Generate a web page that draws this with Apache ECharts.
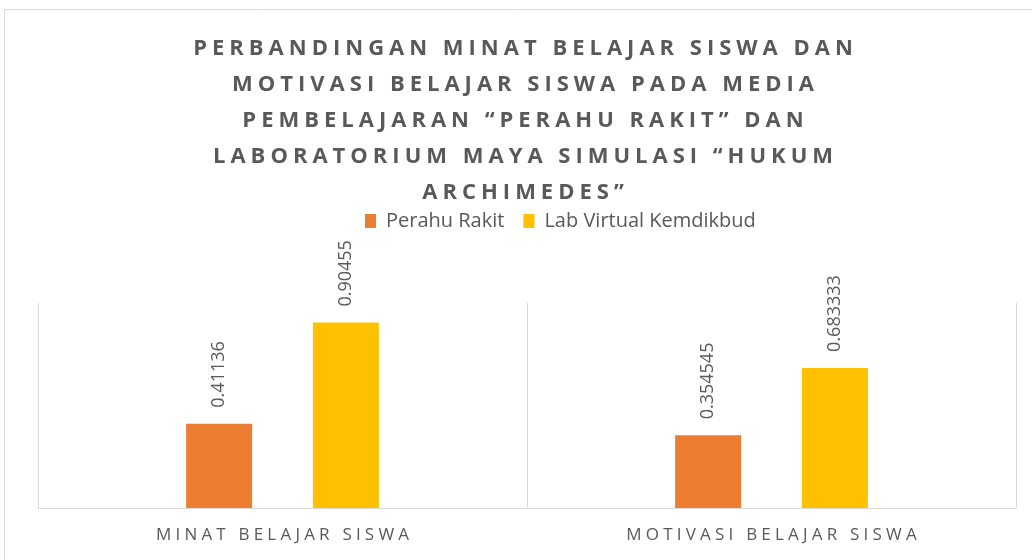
<!DOCTYPE html>
<html>
<head>
<meta charset="utf-8">
<script src="https://cdn.jsdelivr.net/npm/echarts@6/dist/echarts.min.js"></script>
<style>
  html, body { margin: 0; padding: 0; background: #fff; }
  #chart { width: 1032px; height: 560px; }
</style>
</head>
<body>
<div id="chart"></div>
<script>
// data
var categories = ["MINAT BELAJAR SISWA", "MOTIVASI BELAJAR SISWA"];
var seriesNames = ["Perahu Rakit", "Lab Virtual Kemdikbud"];
var perahuRakit = [0.41136, 0.354545];
var labVirtual = [0.90455, 0.683333];
var titleLines = [
  "PERBANDINGAN MINAT BELAJAR SISWA DAN",
  "MOTIVASI BELAJAR SISWA PADA MEDIA",
  "PEMBELAJARAN \u201cPERAHU RAKIT\u201d DAN",
  "LABORATORIUM MAYA SIMULASI \u201cHUKUM",
  "ARCHIMEDES\u201d"
];

// wrap every char in a rich token so it gets some letter spacing
function spaced(str, key) {
  return str.split("").map(function (ch) {
    return "{" + key + "|" + ch + "}";
  }).join("");
}

var labelStyle = {
  show: true,
  position: "top",
  rotate: 90,
  align: "left",
  verticalAlign: "middle",
  distance: 16,
  fontFamily: "Open Sans",
  fontSize: 18,
  color: "#595959",
};

var chart = echarts.init(document.getElementById("chart"));
var option = {
  backgroundColor: "#fff",
  animation: false,
  title: {
    text: titleLines.map(function (l) { return spaced(l, "t"); }).join("\n"),
    left: 523,
    top: 31,
    padding: 0,
    textAlign: "center",
    textStyle: {
      rich: {
        t: {
          fontFamily: "Open Sans",
          fontWeight: "bold",
          fontSize: 22,
          color: "#595959",
          lineHeight: 36,
          padding: [0, 2.5, 0, 2.5],
        },
      },
    },
  },
  legend: {
    data: seriesNames,
    left: 360,
    top: 206,
    itemWidth: 11,
    itemHeight: 14,
    itemGap: 19,
    icon: "rect",
    textStyle: {
      fontFamily: "Open Sans",
      fontSize: 20,
      color: "#595959",
      padding: [0, 0, 0, 5],
    },
  },
  grid: {
    left: 38,
    right: 16,
    top: 303,
    bottom: 52,
    containLabel: false,
  },
  xAxis: {
    type: "category",
    data: categories,
    axisTick: { show: false },
    axisLine: { lineStyle: { color: "#D9D9D9", width: 1 } },
    splitLine: { show: true, interval: 0, lineStyle: { color: "#D9D9D9", width: 1 } },
    axisLabel: {
      interval: 0,
      margin: 19,
      formatter: function (v) { return spaced(v, "c"); },
      rich: {
        c: {
          fontFamily: "Open Sans",
          fontSize: 17,
          color: "#595959",
          padding: [0, 2.1, 0, 2.1],
        },
      },
    },
  },
  yAxis: {
    type: "value",
    min: 0,
    max: 1,
    show: false,
    splitLine: { show: false },
  },
  series: [
    {
      name: seriesNames[0],
      type: "bar",
      data: perahuRakit,
      barWidth: 66,
      barGap: "92%",
      itemStyle: { color: "#ED7D31" },
      label: labelStyle,
    },
    {
      name: seriesNames[1],
      type: "bar",
      data: labVirtual,
      barWidth: 66,
      itemStyle: { color: "#FFC000" },
      label: labelStyle,
    },
  ],
  graphic: [
    {
      type: "rect",
      silent: true,
      shape: { x: 4.5, y: 9.5, width: 1100, height: 600 },
      style: { fill: null, stroke: "#D9D9D9", lineWidth: 1 },
    },
  ],
};
chart.setOption(option);
</script>
</body>
</html>
